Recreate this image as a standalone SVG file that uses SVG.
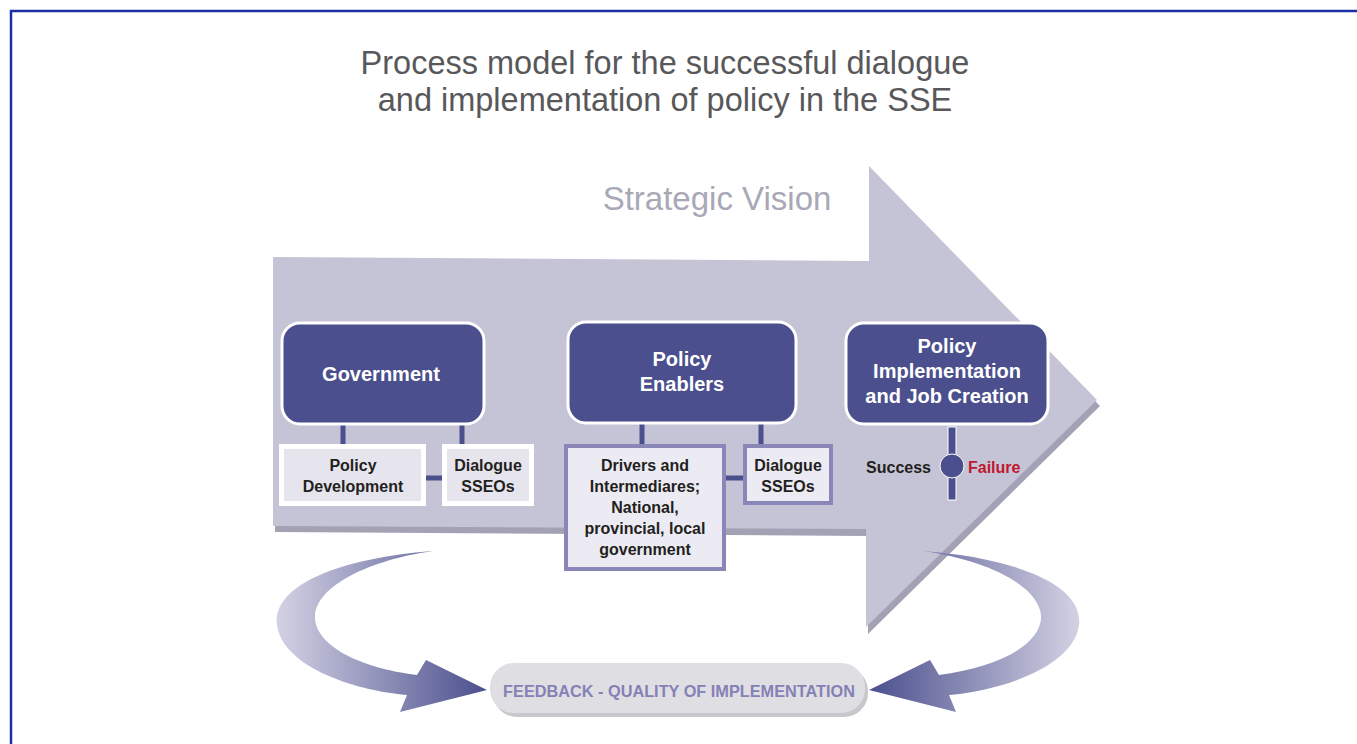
<svg xmlns="http://www.w3.org/2000/svg" width="1357" height="744" viewBox="0 0 1357 744">
<style>
.title{font-family:"Liberation Sans",Arial,sans-serif;font-size:32.5px;fill:#58585a;text-anchor:middle}
.vision{font-family:"Liberation Sans",Arial,sans-serif;font-size:33px;fill:#a9a8b6;text-anchor:middle}
.main{fill:#4b4f8d;stroke:#ffffff;stroke-width:3}
.mainT{font-family:"Liberation Sans",Arial,sans-serif;font-weight:bold;font-size:20px;fill:#ffffff;text-anchor:middle}
.sub{fill:#e6e5ee;stroke:#ffffff;stroke-width:5}
.sub2{fill:#ecebf3;stroke:#8a87b8;stroke-width:4}
.subT{font-family:"Liberation Sans",Arial,sans-serif;font-weight:bold;font-size:16px;fill:#231f20;text-anchor:middle}
.conn{stroke:#4b4f8d;stroke-width:5;fill:none}
</style>
<defs>
<linearGradient id="fb" x1="0" y1="0" x2="1" y2="0">
<stop offset="0" stop-color="#d3d2e4"/>
<stop offset="1" stop-color="#4b4f8d"/>
</linearGradient>
</defs>
<rect width="1357" height="744" fill="#ffffff"/>
<path d="M11,744 V11 H1357" fill="none" stroke="#1b2fa3" stroke-width="2.5"/>
<text class="title" x="665" y="74">Process model for the successful dialogue</text>
<text class="title" x="665" y="111">and implementation of policy in the SSE</text>
<g id="big-arrow">
<polygon points="275,263 871,267 871,172 1100,406 868,634 868,536 275,532" fill="#a3a2b4"/>
<polygon points="273,257 869,261 869,166 1097,400 866,627 866,529 273,526" fill="#c5c4d6"/>
<text class="vision" x="717" y="210">Strategic Vision</text>
</g>
<g id="connectors">
<line class="conn" x1="343" y1="424" x2="343" y2="446"/>
<line class="conn" x1="462" y1="424" x2="462" y2="446"/>
<line class="conn" x1="424" y1="478" x2="444" y2="478"/>
<line class="conn" x1="642" y1="424" x2="642" y2="446"/>
<line class="conn" x1="761" y1="424" x2="761" y2="446"/>
<line class="conn" x1="724" y1="478" x2="745" y2="478"/>
</g>
<g id="government">
<rect class="main" x="282" y="323" width="202" height="101" rx="18"/>
<text class="mainT" x="381" y="381">Government</text>
</g>
<g id="policy-development">
<rect class="sub" x="281.5" y="446.5" width="142" height="57"/>
<text class="subT" x="353" y="471">Policy</text>
<text class="subT" x="353" y="492">Development</text>
</g>
<g id="dialogue-1">
<rect class="sub" x="444.5" y="446.5" width="87" height="57"/>
<text class="subT" x="488" y="471">Dialogue</text>
<text class="subT" x="488" y="492">SSEOs</text>
</g>
<g id="policy-enablers">
<rect class="main" x="568" y="322" width="228" height="101" rx="18"/>
<text class="mainT" x="682" y="366">Policy</text>
<text class="mainT" x="682" y="391">Enablers</text>
</g>
<g id="drivers">
<rect class="sub2" x="566" y="446" width="158" height="123"/>
<text class="subT" x="645" y="471">Drivers and</text>
<text class="subT" x="645" y="492">Intermediares;</text>
<text class="subT" x="645" y="513">National,</text>
<text class="subT" x="645" y="534">provincial, local</text>
<text class="subT" x="645" y="555">government</text>
</g>
<g id="dialogue-2">
<rect class="sub2" x="745" y="446" width="86" height="57"/>
<text class="subT" x="788" y="471">Dialogue</text>
<text class="subT" x="788" y="492">SSEOs</text>
</g>
<g id="policy-implementation">
<rect class="main" x="846" y="323" width="202" height="101" rx="18"/>
<text class="mainT" x="947" y="353">Policy</text>
<text class="mainT" x="947" y="378">Implementation</text>
<text class="mainT" x="947" y="403">and Job Creation</text>
</g>
<g id="success-failure">
<rect x="948" y="427" width="8" height="73" fill="#4b4f8d" stroke="#ffffff" stroke-width="1"/>
<circle cx="952" cy="466" r="12" fill="#4b4f8d" stroke="#ffffff" stroke-width="1"/>
<text class="subT" x="931" y="473" style="text-anchor:end">Success</text>
<text class="subT" x="968" y="473" style="text-anchor:start;fill:#c0172f">Failure</text>
</g>
<g id="feedback-arrows">
<path d="M433,551 C340,558 272,585 277,625 C282,665 350,690 407,695 L400,712 L487,690 L426,660 L417,675 C360,668 313,645 315,615 C318,585 370,560 433,551 Z" fill="url(#fb)"/>
<path transform="translate(1356,0) scale(-1,1)" d="M433,551 C340,558 272,585 277,625 C282,665 350,690 407,695 L400,712 L487,690 L426,660 L417,675 C360,668 313,645 315,615 C318,585 370,560 433,551 Z" fill="url(#fb)"/>
</g>
<g id="feedback">
<rect x="493" y="667" width="375" height="50" rx="24" fill="#c8c8cc"/>
<rect x="490" y="663" width="375" height="50" rx="24" fill="#dfdfe3"/>
<text x="679" y="697" style="font-family:'Liberation Sans',Arial,sans-serif;font-weight:bold;font-size:16.3px;fill:#8581b6;text-anchor:middle">FEEDBACK - QUALITY OF IMPLEMENTATION</text>
</g>
</svg>
